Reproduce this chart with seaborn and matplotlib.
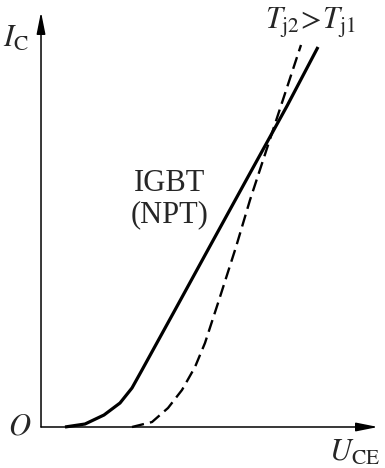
import matplotlib
matplotlib.use("Agg")
import matplotlib.pyplot as plt
import seaborn as sns
import pandas as pd

# Output characteristic of IGBT (NPT) at two junction temperatures (arbitrary units)
u_ce_tj1 = [0.712, 1.306, 1.869, 2.344, 2.700, 2.997, 3.323, 3.976, 5.015, 6.172, 7.300, 8.220]
i_c_tj1 = [0.000, 0.072, 0.289, 0.578, 0.940, 1.373, 1.855, 2.819, 4.361, 6.072, 7.735, 9.157]
u_ce_tj2 = [2.700, 3.294, 3.769, 4.184, 4.570, 4.866, 5.282, 5.786, 6.202, 6.855, 7.715]
i_c_tj2 = [0.000, 0.120, 0.458, 0.892, 1.446, 2.024, 3.060, 4.337, 5.470, 7.084, 9.205]

sns.set_theme(style="white")
plt.rcParams["mathtext.fontset"] = "stix"
plt.rcParams["font.family"] = ["Liberation Serif", "DejaVu Serif"]

fig = plt.figure(figsize=(3.85, 4.68), dpi=100)
ax = fig.add_axes([0, 0, 1, 1])

df1 = pd.DataFrame({"U": u_ce_tj1, "I": i_c_tj1})
df2 = pd.DataFrame({"U": u_ce_tj2, "I": i_c_tj2})
sns.lineplot(data=df1, x="U", y="I", sort=False, ax=ax, color="black", lw=2.3,
             solid_capstyle="butt", solid_joinstyle="round")
sns.lineplot(data=df2, x="U", y="I", sort=False, ax=ax, color="black", lw=1.7,
             dashes=(5.2, 2.6), dash_capstyle="butt")

ax.set_xlim(-1.217, 10.208)
ax.set_ylim(-0.988, 10.289)
ax.set_axis_off()

arrow = dict(arrowstyle="-|>,head_length=1.1,head_width=0.22", color="black",
             lw=1.1, shrinkA=0, shrinkB=0)
ax.annotate("", xy=(10.0, 0), xytext=(0, 0), arrowprops=arrow)
ax.annotate("", xy=(0, 10.0), xytext=(0, 0), arrowprops=arrow)

fs = 22
ax.text(-0.75, 9.35, r"$I_{\mathrm{C}}$", fontsize=fs, ha="center", va="center")
ax.text(-0.62, 0.0, r"$O$", fontsize=fs, ha="center", va="center")
ax.text(9.3, -0.62, r"$U_{\mathrm{CE}}$", fontsize=fs, ha="center", va="center")
ax.text(8.0, 9.75, r"$T_{\mathrm{j2}}\!>\!T_{\mathrm{j1}}$", fontsize=fs, ha="center", va="center")
ax.text(3.8, 5.5, "IGBT\n(NPT)", fontsize=fs, ha="center", va="center",
        linespacing=1.1)

fig.savefig("out.png", dpi=100)
